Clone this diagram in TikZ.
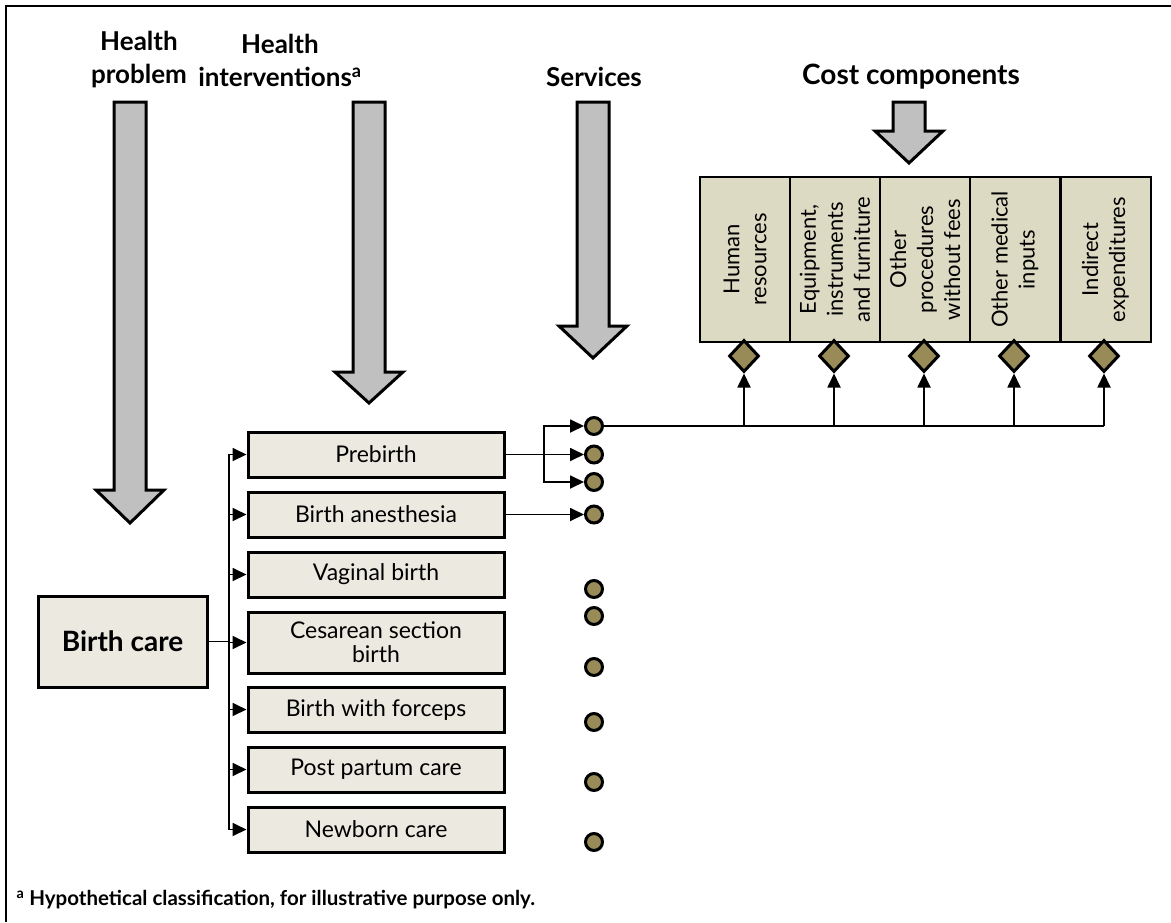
\documentclass[tikz,border=0pt]{standalone}
\usepackage{fontspec}
\setmainfont{Lato}
\usepackage{xcolor}
\usetikzlibrary{arrows.meta, shapes.geometric, positioning, calc}

\definecolor{boxfill}{RGB}{236,233,224}
\definecolor{costfill}{RGB}{221,218,196}
\definecolor{olive}{RGB}{152,139,88}
\definecolor{arrowgray}{RGB}{192,192,192}

\tikzset{
  interv/.style={draw, line width=3pt, fill=boxfill, minimum width=256pt, minimum height=45pt, inner sep=1pt, align=center, font=\fontsize{23}{24}\selectfont},
  costcol/.style={draw, line width=2pt, fill=costfill, minimum width=165pt, minimum height=90pt, rotate=90, align=center, inner sep=1pt, font=\fontsize{22}{27}\selectfont},
  serv/.style={circle, draw, line width=3pt, fill=olive, minimum size=17pt, inner sep=0pt},
  costlink/.style={diamond, draw, line width=3pt, fill=olive, minimum width=30pt, minimum height=32pt, inner sep=0pt},
  heading/.style={align=center, font=\fontsize{26}{33}\selectfont\bfseries},
  link/.style={line width=1.8pt, -{Triangle[length=14pt,width=13pt]}},
  bigarrow/.style={draw, line width=3pt, fill=arrowgray, line join=miter},
}

% x centre, top, start of head, tip
\newcommand{\blockarrow}[4]{%
  \draw[bigarrow] ({#1-16},#2) -- ({#1+16},#2) -- ({#1+16},#3) -- ({#1+34},#3)
    -- (#1,#4) -- ({#1-34},#3) -- ({#1-16},#3) -- cycle;}

\begin{document}
\begin{tikzpicture}[x=1pt, y=-1pt]
\useasboundingbox (0,0) rectangle (1171,922);
\draw[line width=2.5pt] (6,922) -- (6,6) -- (1171,6);

% headings
\node[heading] (hproblem) at (139,60) {Health\\problem};
\node[heading] (hinterv) at (280,60) {Health\\interventions\textsuperscript{a}};
\node[heading] (hserv) at (594,77) {Services};
\node[heading, font=\fontsize{28}{33}\selectfont\bfseries] (hcost) at (911,77) {Cost components};

\blockarrow{130}{102}{490}{523}
\blockarrow{369}{102}{372}{403}
\blockarrow{593}{102}{326}{358}
\blockarrow{909}{102}{131}{163}

% health problem
\node[draw, line width=3pt, fill=boxfill, minimum width=169pt, minimum height=91pt,
      font=\fontsize{28}{30}\selectfont\bfseries] (birthcare) at (122.5,641.5) {Birth care};

% interventions
\node[interv] (prebirth) at (376,454.5) {Prebirth};
\node[interv] (anesth) at (376,514.5) {Birth anesthesia};
\node[interv] (vaginal) at (376,574.5) {Vaginal birth};
\node[interv, minimum height=61pt] (cesarean) at (376,642.5) {Cesarean section\\birth};
\node[interv] (forceps) at (376,709.5) {Birth with forceps};
\node[interv] (postpartum) at (376,769.5) {Post partum care};
\node[interv] (newborn) at (376,829.5) {Newborn care};

\coordinate (bus) at (229,641.5);
\draw[line width=1.8pt] (birthcare.east) -- (bus);
\foreach \b in {prebirth, anesth, vaginal, cesarean, forceps, postpartum, newborn}
  \draw[link] (bus) |- (\b.west);

% services
\node[serv] (s1) at (594,426) {};
\node[serv] (s2) at (594,454.5) {};
\node[serv] (s3) at (594,482) {};
\node[serv] (s4) at (594,514.5) {};
\node[serv] (s5) at (594,589) {};
\node[serv] (s6) at (594,616) {};
\node[serv] (s7) at (594,667) {};
\node[serv] (s8) at (594,722) {};
\node[serv] (s9) at (594,782) {};
\node[serv] (s10) at (594,842) {};

\coordinate (split) at (544,454.5);
\draw[line width=1.8pt] (prebirth.east) -- (split);
\draw[link] (split) |- (s1.west);
\draw[link] (split) -- (s2.west);
\draw[link] (split) |- (s3.west);
\draw[link] (anesth.east) -- (s4.west);

% cost components
\node[costcol] (c1) at (745,259.5) {Human\\resources};
\node[costcol] (c2) at (835,259.5) {Equipment,\\instruments\\and furniture};
\node[costcol] (c3) at (925,259.5) {Other\\procedures\\without fees};
\node[costcol] (c4) at (1015,259.5) {Other medical\\inputs};
\node[costcol] (c5) at (1105.5,259.5) {Indirect\\expenditures};

\foreach \i/\x in {1/744, 2/834, 3/924, 4/1014, 5/1104}
  \node[costlink] (d\i) at (\x,356) {};

\draw[line width=1.8pt] (s1.east) -- (s1.east -| d5.south);
\foreach \i in {1,...,5}
  \draw[link] (s1.east -| d\i.south) -- (d\i.south);

% footnote
\node[anchor=west, font=\fontsize{20.5}{22}\selectfont\bfseries] (note) at (13,900)
  {\textsuperscript{a} Hypothetical classification, for illustrative purpose only.};
\end{tikzpicture}
\end{document}
